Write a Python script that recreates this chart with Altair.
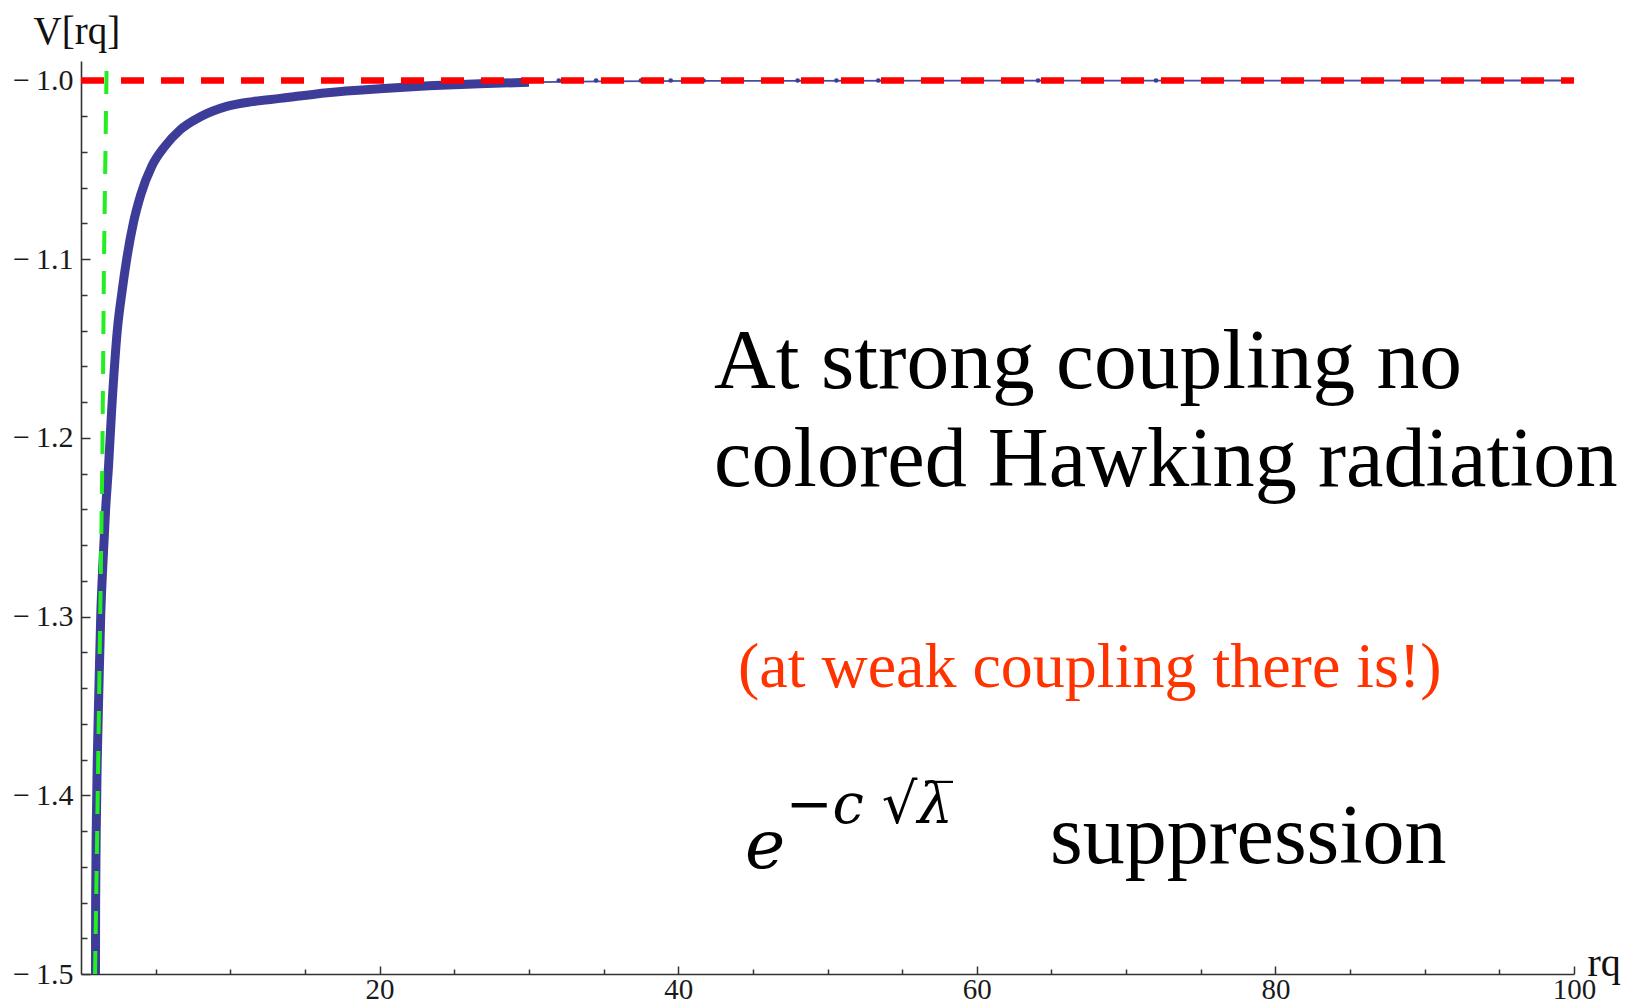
import altair as alt
import pandas as pd

# ---- data ----
curve_rq = [0.97, 0.98, 1.02, 1.09, 1.20, 1.32, 1.50, 1.65, 1.85, 2.05, 2.43, 2.75, 3.06,
            3.50, 4.00, 4.74, 5.60, 6.63, 8.00, 9.76, 11.5, 13.33, 16.5, 20.0, 23.3,
            26.7, 30.0, 35.0, 45.0, 60.0, 100.0]
curve_v = [-1.50, -1.46, -1.42, -1.38, -1.34, -1.30, -1.265, -1.24, -1.215, -1.185, -1.14,
           -1.118, -1.10, -1.080, -1.064, -1.048, -1.037, -1.0277, -1.0203, -1.0145, -1.0118,
           -1.0100, -1.0068, -1.0046, -1.0030, -1.0018, -1.0010, -1.0005, -1.0002, -1.0001,
           -1.0]

dot_rq = [30.5, 32.0, 33.2, 34.5, 36.0, 37.5, 39.5, 41.7, 45.8, 48.0, 50.6, 53.4, 56.5,
          62.1, 64.1, 72.0, 83.7, 91.6]
dot_v = [-1.0, -1.0, -1.0, -1.0, -1.0, -1.0, -1.0, -1.0, -1.0, -1.0, -1.0, -1.0, -1.0,
         -1.0, -1.0, -1.0, -1.0, -1.0]

ref_rq = [0, 100]
ref_v = [-1.0, -1.0]

green_rq = [0.94, 1.05, 1.21, 1.43, 1.54, 1.72]
green_v = [-1.5, -1.44, -1.347, -1.212, -1.10, -0.989]

x_major = [20, 40, 60, 80, 100]
x_minor = [5, 10, 15, 25, 30, 35, 45, 50, 55, 65, 70, 75, 85, 90, 95]
y_major = [-1.0, -1.1, -1.2, -1.3, -1.4, -1.5]
y_minor = [-1.02, -1.04, -1.06, -1.08, -1.12, -1.14, -1.16, -1.18, -1.22, -1.24, -1.26,
           -1.28, -1.32, -1.34, -1.36, -1.38, -1.42, -1.44, -1.46, -1.48]

text_line1 = "At strong coupling no"
text_line2 = "colored Hawking radiation"
text_red = "(at weak coupling there is!)"
text_e = "e"
text_sup = "\u2212c \u221a\u03bb\u0305"
text_supp = "suppression"

# ---- layout ----
W, H = 1493, 913
SERIF = "Liberation Serif"
xs = alt.Scale(domain=[0, 100], nice=False, zero=False)
ys = alt.Scale(domain=[-1.5, -0.98909], nice=False, zero=False)

curve = pd.DataFrame({"rq": curve_rq, "v": curve_v})
dots = pd.DataFrame({"rq": dot_rq, "v": dot_v})
ref = pd.DataFrame({"rq": ref_rq, "v": ref_v})
green = pd.DataFrame({"rq": green_rq, "v": green_v})

x_lab = alt.Axis(values=x_major, ticks=False, domain=True, domainColor="#333333",
                 domainWidth=1.6, grid=False, labelFont=SERIF, labelFontSize=29,
                 labelColor="#1a1a1a", labelPadding=24, labelBaseline="alphabetic",
                 labelFlush=False, labelOverlap=False,
                 title="rq", titleFont=SERIF, titleFontSize=40, titleFontWeight="normal",
                 titleColor="#111111", titleAngle=0, titleAlign="left",
                 titleBaseline="alphabetic", titleX=1506, titleY=1)
x_maj = alt.Axis(orient="top", offset=-H, values=x_major, labels=False, domain=False,
                 grid=False, ticks=True, tickSize=8, tickColor="#333333", tickWidth=1.5,
                 title=None)
x_min = alt.Axis(orient="top", offset=-H, values=x_minor, labels=False, domain=False,
                 grid=False, ticks=True, tickSize=5, tickColor="#333333", tickWidth=1.5,
                 title=None)

y_lab = alt.Axis(orient="left", values=y_major, ticks=False, domain=True,
                 domainColor="#333333", domainWidth=1.6, grid=False, labelFont=SERIF,
                 labelFontSize=30, labelColor="#1a1a1a", labelPadding=8, labelFlush=False,
                 labelOverlap=False,
                 labelExpr="'\u2212\u2009' + format(-datum.value, '.1f')",
                 title="V[rq]", titleFont=SERIF, titleFontSize=39, titleFontWeight="normal",
                 titleColor="#111111", titleAngle=0, titleAlign="left",
                 titleBaseline="alphabetic", titleX=-48, titleY=-18)
y_maj = alt.Axis(orient="right", offset=-W, values=y_major, labels=False, domain=False,
                 grid=False, ticks=True, tickSize=9, tickColor="#333333", tickWidth=1.5,
                 title=None)
y_min = alt.Axis(orient="right", offset=-W, values=y_minor, labels=False, domain=False,
                 grid=False, ticks=True, tickSize=6, tickColor="#333333", tickWidth=1.5,
                 title=None)

BLUE = "#3d3d99"

thin = alt.Chart(curve).mark_line(color="#4a4aa2", strokeWidth=1.8, clip=True,
                                  interpolate="monotone").encode(
    x=alt.X("rq:Q", scale=xs, axis=x_lab),
    y=alt.Y("v:Q", scale=ys, axis=y_lab),
)
thick = alt.Chart(curve).transform_filter("datum.rq <= 30").mark_line(
    color=BLUE, strokeWidth=9, clip=True, interpolate="monotone").encode(
    x=alt.X("rq:Q", scale=xs, axis=x_maj),
    y=alt.Y("v:Q", scale=ys, axis=y_maj),
)
pts = alt.Chart(dots).mark_circle(color=BLUE, size=22, opacity=1, clip=True).encode(
    x=alt.X("rq:Q", scale=xs, axis=x_min),
    y=alt.Y("v:Q", scale=ys, axis=y_min),
)
red = alt.Chart(ref).mark_line(color="#ff0000", strokeWidth=6.5, strokeDash=[23, 17],
                               clip=True).encode(
    x=alt.X("rq:Q", scale=xs, axis=None),
    y=alt.Y("v:Q", scale=ys, axis=None),
)
grn = alt.Chart(green).mark_line(color="#22ee22", strokeWidth=4, strokeDash=[23, 17],
                                 clip=True).encode(
    x=alt.X("rq:Q", scale=xs, axis=None),
    y=alt.Y("v:Q", scale=ys, axis=None),
)


def label(txt, x, y, size, color="#000000", font=SERIF, style="normal"):
    df = pd.DataFrame({"x": [x], "y": [y], "t": [txt]})
    return alt.Chart(df).mark_text(align="left", baseline="alphabetic", font=font,
                                   fontSize=size, color=color, fontStyle=style).encode(
        x=alt.X("x:Q", scale=xs, axis=None),
        y=alt.Y("y:Q", scale=ys, axis=None),
        text="t:N",
    )


texts = [
    label(text_line1, 42.40, -1.1721, 85.5),
    label(text_line2, 42.40, -1.2269, 84.3),
    label(text_red, 44.0, -1.3394, 64, color="#ff3300"),
    label(text_e, 44.47, -1.4407, 68, font="DejaVu Serif", style="italic"),
    label(text_sup, 47.2, -1.4155, 56, font="DejaVu Serif", style="italic"),
    label(text_supp, 64.9, -1.4379, 84),
]

chart = alt.layer(thin, thick, pts, red, grn, *texts).resolve_axis(
    x="independent", y="independent"
).properties(
    width=W, height=H,
    autosize=alt.AutoSizeParams(type="none"),
    padding={"left": 73, "top": 53, "right": 49, "bottom": 31},
    background="white",
).configure_view(strokeWidth=0)

chart.save("out.html", embed_options={"renderer": "svg", "actions": False})
